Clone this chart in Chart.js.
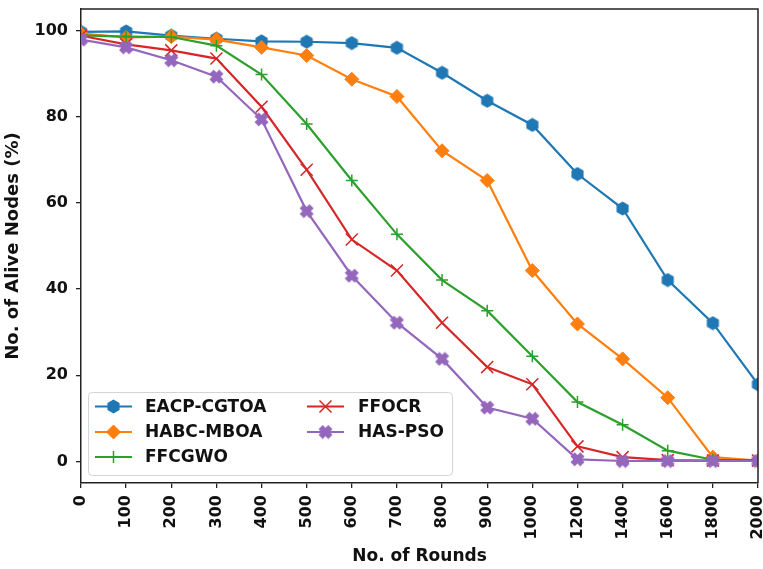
<!DOCTYPE html>
<html>
<head>
<meta charset="utf-8">
<script src="https://cdn.jsdelivr.net/npm/chart.js@4/dist/chart.umd.min.js"></script>
<style>
  html, body { margin: 0; padding: 0; background: #fff; }
  canvas { display: block; }
</style>
</head>
<body>
<canvas id="c" width="763" height="569"></canvas>
<script>
// Rounds at which the share of alive nodes was recorded
const rounds = ['0', '100', '200', '300', '400', '500', '600', '700', '800', '900', '1000', '1200', '1400', '1600', '1800', '2000'];

// Alive nodes (%) per protocol
const eacpCgtoa = [99.7, 99.8, 98.8, 98.1, 97.5, 97.4, 97.1, 96.0, 90.2, 83.7, 78.1, 66.7, 58.7, 42.1, 32.1, 17.9];
const habcMboa  = [99.3, 98.4, 98.6, 97.9, 96.1, 94.2, 88.7, 84.7, 72.1, 65.2, 44.3, 31.9, 23.8, 14.8, 1.0, 0.2];
const ffcgwo    = [98.9, 98.6, 98.5, 96.5, 89.8, 78.3, 65.2, 52.7, 42.1, 35.0, 24.4, 13.8, 8.5, 2.5, 0.4, 0.3];
const ffocr     = [98.8, 96.8, 95.4, 93.5, 82.3, 67.7, 51.5, 44.3, 32.2, 21.9, 17.9, 3.5, 1.0, 0.3, 0.2, 0.2];
const hasPso    = [97.9, 96.1, 93.1, 89.3, 79.4, 58.1, 43.1, 32.2, 23.8, 12.5, 9.9, 0.5, 0.1, 0.1, 0.1, 0.1];

const yTicks = [0, 20, 40, 60, 80, 100];

const FONT = "'DejaVu Sans', sans-serif";
const SPINE = '#222222';

// Small bitmap markers for shapes Chart.js has no built-in style for
function makeMarker(size, color, draw) {
  const cv = document.createElement('canvas');
  cv.width = size; cv.height = size;
  const g = cv.getContext('2d');
  g.fillStyle = color;
  g.translate(size / 2, size / 2);
  draw(g, size / 2);
  return cv;
}
function hexagon(color) {
  return makeMarker(15, color, (g, h) => {
    const r = h - 0.5;
    g.beginPath();
    for (let i = 0; i < 6; i++) {
      const a = -Math.PI / 2 + i * Math.PI / 3;
      const px = r * Math.cos(a), py = r * Math.sin(a);
      if (i === 0) g.moveTo(px, py); else g.lineTo(px, py);
    }
    g.closePath();
    g.fill();
  });
}
function filledX(color) {
  return makeMarker(15, color, (g, h) => {
    const r = h - 0.5, w = r * 0.42;
    g.rotate(Math.PI / 4);
    g.beginPath();
    g.moveTo(-w, -r); g.lineTo(w, -r); g.lineTo(w, -w); g.lineTo(r, -w);
    g.lineTo(r, w); g.lineTo(w, w); g.lineTo(w, r); g.lineTo(-w, r);
    g.lineTo(-w, w); g.lineTo(-r, w); g.lineTo(-r, -w); g.lineTo(-w, -w);
    g.closePath();
    g.fill();
  });
}

const BLUE = '#1f77b4', ORANGE = '#ff7f0e', GREEN = '#2ca02c', RED = '#d62728', PURPLE = '#9467bd';

function series(label, data, color, style, radius, bw, order) {
  return {
    label, data,
    borderColor: color, backgroundColor: color,
    borderWidth: 2.2, tension: 0,
    pointStyle: style, pointRadius: radius, pointHoverRadius: radius,
    pointBackgroundColor: color, pointBorderColor: color, pointBorderWidth: bw,
    clip: 0, order
  };
}

const datasets = [
  series('EACP-CGTOA', eacpCgtoa, BLUE, hexagon(BLUE), 7, 0, 4),
  series('HABC-MBOA', habcMboa, ORANGE, 'rectRot', 7, 1, 3),
  series('FFCGWO', ffcgwo, GREEN, 'cross', 6, 1.5, 2),
  series('FFOCR', ffocr, RED, 'crossRot', 8.5, 1.5, 1),
  series('HAS-PSO', hasPso, PURPLE, filledX(PURPLE), 7, 0, 0)
];

// Top and right spines to close the axes box
const frame = {
  id: 'frame',
  afterDatasetsDraw(chart) {
    const { ctx, chartArea: a } = chart;
    ctx.save();
    ctx.strokeStyle = SPINE;
    ctx.lineWidth = 1.5;
    ctx.beginPath();
    ctx.moveTo(a.left, a.top); ctx.lineTo(a.right, a.top); ctx.lineTo(a.right, a.bottom);
    ctx.stroke();
    ctx.restore();
  }
};

// Two-column legend inside the lower-left corner of the plot
const boxLegend = {
  id: 'boxLegend',
  afterDraw(chart) {
    const { ctx } = chart;
    const x0 = 88, y0 = 392, x1 = 452, y1 = 475;
    ctx.save();
    ctx.fillStyle = 'rgba(255,255,255,0.85)';
    ctx.strokeStyle = '#d4d4d4';
    ctx.lineWidth = 1;
    ctx.beginPath();
    ctx.roundRect(x0 + 0.5, y0 + 0.5, x1 - x0, y1 - y0, 4);
    ctx.fill(); ctx.stroke();

    const cols = [{ lx: 95, tx: 145 }, { lx: 307, tx: 358 }];
    const rows = [406.5, 432, 457];
    const place = [[0, 0], [0, 1], [0, 2], [1, 0], [1, 1]];
    chart.data.datasets.forEach((ds, i) => {
      const c = cols[place[i][0]], y = rows[place[i][1]];
      ctx.strokeStyle = ds.borderColor;
      ctx.lineWidth = 2.2;
      ctx.beginPath();
      ctx.moveTo(c.lx, y); ctx.lineTo(c.lx + 37, y);
      ctx.stroke();
      ctx.fillStyle = ds.pointBackgroundColor;
      ctx.strokeStyle = ds.pointBorderColor;
      ctx.lineWidth = ds.pointBorderWidth;
      Chart.helpers.drawPoint(ctx, {
        pointStyle: ds.pointStyle, rotation: 0,
        radius: ds.pointRadius, borderWidth: ds.pointBorderWidth
      }, c.lx + 18.5, y);
      ctx.fillStyle = '#111';
      ctx.font = "bold 17px " + FONT;
      ctx.textAlign = 'left';
      ctx.textBaseline = 'middle';
      ctx.fillText(ds.label, c.tx, y + 1);
    });
    ctx.restore();
  }
};

new Chart(document.getElementById('c'), {
  type: 'line',
  data: { labels: rounds, datasets },
  options: {
    responsive: false,
    devicePixelRatio: 1,
    animation: false,
    events: [],
    layout: { autoPadding: false, padding: { top: 9, right: 5, left: 0, bottom: 0 } },
    plugins: { legend: { display: false }, tooltip: { enabled: false } },
    scales: {
      x: {
        type: 'category',
        offset: false,
        grid: { display: true, drawOnChartArea: false, drawTicks: true, tickLength: 5, color: SPINE, lineWidth: 1.3, offset: false },
        border: { display: true, color: SPINE, width: 1.5 },
        ticks: {
          color: '#111', font: { family: FONT, size: 16, weight: 'bold' },
          minRotation: 90, maxRotation: 90, autoSkip: false, padding: 7
        },
        title: {
          display: true, text: 'No. of Rounds', color: '#111',
          font: { family: FONT, size: 17, weight: 'bold' }, padding: { top: 4, bottom: 2 }
        },
        afterFit(s) { s.height = 86; s.paddingLeft = 0; s.paddingRight = 0; }
      },
      y: {
        min: -5, max: 105,
        grid: { display: true, drawOnChartArea: false, drawTicks: true, tickLength: 5, color: SPINE, lineWidth: 1.3 },
        border: { display: true, color: SPINE, width: 1.5 },
        ticks: { color: '#111', font: { family: FONT, size: 16, weight: 'bold' }, padding: 8 },
        afterBuildTicks(s) { s.ticks = yTicks.map(v => ({ value: v })); },
        title: {
          display: true, text: 'No. of Alive Nodes (%)', color: '#111',
          font: { family: FONT, size: 18, weight: 'bold' }, padding: { top: 3, bottom: 4 }
        },
        afterFit(s) { s.width = 81; s.paddingTop = 0; s.paddingBottom = 0; }
      }
    }
  },
  plugins: [frame, boxLegend]
});
</script>
</body>
</html>
